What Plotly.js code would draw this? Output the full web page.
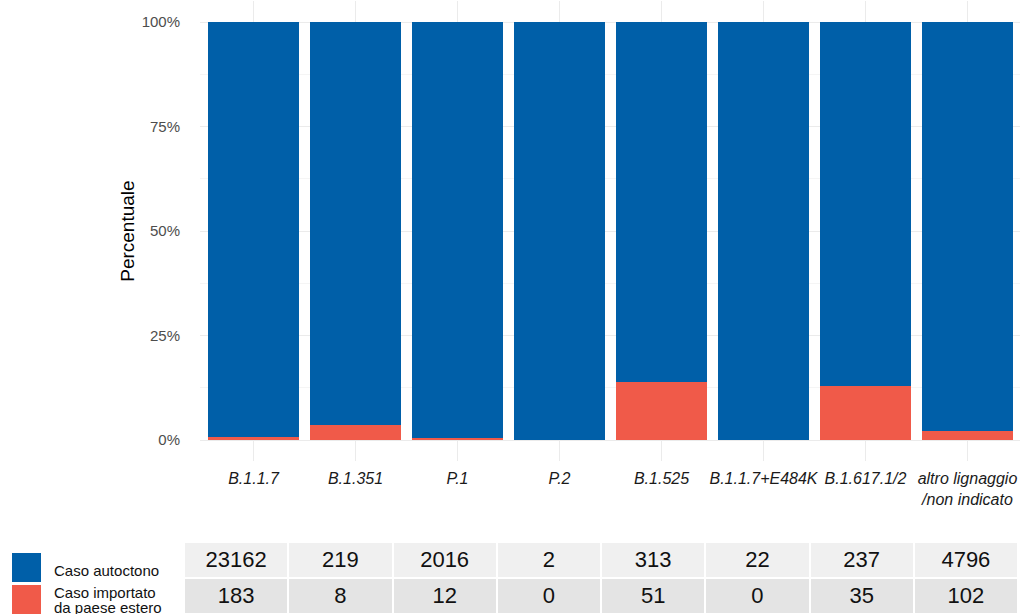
<!DOCTYPE html>
<html>
<head>
<meta charset="utf-8">
<script src="https://cdn.plot.ly/plotly-3.0.1.min.js"></script>
<style>html,body{margin:0;padding:0;background:#fff;}#chart{width:1020px;height:614px;}</style>
</head>
<body>
<div id="chart"></div>
<script>
const categories = ["B.1.1.7","B.1.351","P.1","P.2","B.1.525","B.1.1.7+E484K","B.1.617.1/2","altro lignaggio<br>/non indicato"];
const autoctono = [23162, 219, 2016, 2, 313, 22, 237, 4796];
const importato = [183, 8, 12, 0, 51, 0, 35, 102];
const seriesNames = ["Caso autoctono", "Caso importato<br>da paese estero"];
const colors = ["#005FA8", "#F05A49"];

const W = 1020, H = 614;
const idx = categories.map((c, i) => i);

const traces = [
  {type: 'bar', x: idx, y: importato, name: seriesNames[1], marker: {color: colors[1]}, hoverinfo: 'skip'},
  {type: 'bar', x: idx, y: autoctono, name: seriesNames[0], marker: {color: colors[0]}, hoverinfo: 'skip'},
  {
    type: 'table',
    domain: {x: [184/W, 1018/W], y: [0, 1 - 542/H]},
    columnwidth: categories.map(() => 1),
    header: {
      values: autoctono.map(v => String(v)),
      height: 36,
      fill: {color: '#F0F0F0'},
      line: {color: '#FFFFFF', width: 2},
      align: 'center',
      font: {family: 'Liberation Sans, Arial, sans-serif', size: 22, color: '#111111'}
    },
    cells: {
      values: importato.map(v => [String(v)]),
      height: 36,
      fill: {color: '#E4E4E4'},
      line: {color: '#FFFFFF', width: 2},
      align: 'center',
      font: {family: 'Liberation Sans, Arial, sans-serif', size: 22, color: '#111111'}
    }
  }
];

const legendShapes = [];
const legendAnns = [];
const legendRows = [{y0: 553, y1: 582, ty: 570, color: colors[0], text: seriesNames[0]},
                    {y0: 585, y1: 616, ty: 592, color: colors[1], text: seriesNames[1]}];
legendRows.forEach(r => {
  legendShapes.push({type: 'rect', xref: 'paper', yref: 'paper', x0: 12/W, x1: 41/W,
    y0: 1 - r.y1/H, y1: 1 - r.y0/H, fillcolor: r.color, line: {width: 0}, layer: 'above'});
  r.text.split('<br>').forEach((line, k) => {
    legendAnns.push({xref: 'paper', yref: 'paper', x: 52/W, y: 1 - (r.ty + k * 15)/H, xanchor: 'left', yanchor: 'middle',
      text: line, showarrow: false, align: 'left',
      font: {family: 'Liberation Sans, Arial, sans-serif', size: 15, color: '#111111'}});
  });
});

const layout = {
  width: W, height: H,
  margin: {l: 0, r: 0, t: 0, b: 0},
  paper_bgcolor: '#FFFFFF', plot_bgcolor: '#FFFFFF',
  barmode: 'stack', barnorm: 'fraction', bargap: 0.1,
  showlegend: false,
  font: {family: 'Liberation Sans, Arial, sans-serif'},
  xaxis: {
    domain: [200/W, 1],
    range: [-0.525, 7.515],
    tickmode: 'array', tickvals: idx, ticktext: categories,
    showgrid: true, gridcolor: '#EBEBEB', gridwidth: 1,
    zeroline: false, showline: false, ticks: '',
    tickfont: {size: 16, color: '#1A1A1A', style: 'italic'},
    ticklabelstandoff: 6
  },
  yaxis: {
    domain: [1 - 461/H, 1 - 1.1/H],
    range: [-0.05, 1.05],
    tickmode: 'array', tickvals: [0, 0.25, 0.5, 0.75, 1], ticktext: ['0%', '25%', '50%', '75%', '100%'],
    showgrid: true, gridcolor: '#EBEBEB', gridwidth: 1,
    minor: {tickvals: [0.125, 0.375, 0.625, 0.875], showgrid: true, gridcolor: '#F5F5F5', gridwidth: 1},
    zeroline: false, showline: false,
    ticks: 'outside', ticklen: 16, tickcolor: 'rgba(0,0,0,0)',
    tickfont: {size: 15, color: '#4D4D4D'},
    title: {text: 'Percentuale', font: {size: 19, color: '#000000'}, standoff: 1}
  },
  shapes: legendShapes,
  annotations: legendAnns
};

Plotly.newPlot('chart', traces, layout, {displayModeBar: false, staticPlot: true});
</script>
</body>
</html>
